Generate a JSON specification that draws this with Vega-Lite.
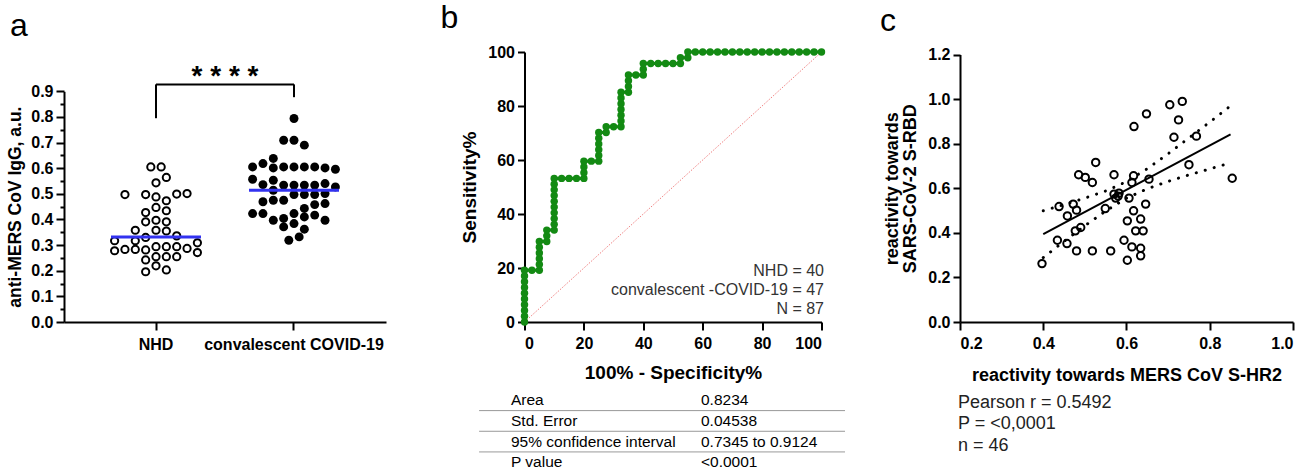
{
  "$schema": "https://vega.github.io/schema/vega-lite/v6.json",
  "background": "white",
  "padding": {"left": 6, "top": 2, "right": 5, "bottom": 0},
  "spacing": 138.5,
  "bounds": "flush",
  "config": {
    "font": "Liberation Sans",
    "view": {"stroke": null},
    "axis": {"grid": false, "domainColor": "black", "domainWidth": 2, "tickColor": "black", "tickWidth": 2, "labelColor": "black", "labelFont": "Liberation Sans", "labelFontWeight": "bold", "labelFontSize": 16, "titleFont": "Liberation Sans", "titleFontWeight": "bold", "titleColor": "black"},
    "title": {"font": "Liberation Sans", "fontWeight": "normal", "fontSize": 32, "color": "black", "anchor": "start", "frame": "group"},
    "text": {"font": "Liberation Sans"}
  },
  "datasets": {
    "swarm": [
      {"group": "NHD", "v": 0.605, "slot": -0.5}, {"group": "NHD", "v": 0.605, "slot": 0.5}, {"group": "NHD", "v": 0.564, "slot": 1}, {"group": "NHD", "v": 0.543, "slot": 0},
      {"group": "NHD", "v": 0.497, "slot": -3}, {"group": "NHD", "v": 0.497, "slot": -1}, {"group": "NHD", "v": 0.488, "slot": 0}, {"group": "NHD", "v": 0.499, "slot": 2}, {"group": "NHD", "v": 0.501, "slot": 3},
      {"group": "NHD", "v": 0.473, "slot": 1}, {"group": "NHD", "v": 0.447, "slot": 0}, {"group": "NHD", "v": 0.427, "slot": -1}, {"group": "NHD", "v": 0.434, "slot": 1},
      {"group": "NHD", "v": 0.391, "slot": -1}, {"group": "NHD", "v": 0.397, "slot": 0}, {"group": "NHD", "v": 0.391, "slot": 1},
      {"group": "NHD", "v": 0.358, "slot": -2}, {"group": "NHD", "v": 0.358, "slot": 0}, {"group": "NHD", "v": 0.355, "slot": 1},
      {"group": "NHD", "v": 0.336, "slot": 2}, {"group": "NHD", "v": 0.33, "slot": -1},
      {"group": "NHD", "v": 0.317, "slot": -4}, {"group": "NHD", "v": 0.317, "slot": -2},
      {"group": "NHD", "v": 0.278, "slot": -4}, {"group": "NHD", "v": 0.283, "slot": -3}, {"group": "NHD", "v": 0.283, "slot": -2}, {"group": "NHD", "v": 0.281, "slot": -1}, {"group": "NHD", "v": 0.294, "slot": 0}, {"group": "NHD", "v": 0.294, "slot": 1}, {"group": "NHD", "v": 0.294, "slot": 2}, {"group": "NHD", "v": 0.287, "slot": 3}, {"group": "NHD", "v": 0.309, "slot": 4}, {"group": "NHD", "v": 0.271, "slot": 4},
      {"group": "NHD", "v": 0.242, "slot": -1}, {"group": "NHD", "v": 0.255, "slot": 0}, {"group": "NHD", "v": 0.255, "slot": 1}, {"group": "NHD", "v": 0.255, "slot": 2},
      {"group": "NHD", "v": 0.219, "slot": 0},
      {"group": "NHD", "v": 0.196, "slot": -1}, {"group": "NHD", "v": 0.203, "slot": 1},
      {"group": "convalescent COVID-19", "v": 0.794, "slot": 0},
      {"group": "convalescent COVID-19", "v": 0.709, "slot": -1}, {"group": "convalescent COVID-19", "v": 0.709, "slot": 0}, {"group": "convalescent COVID-19", "v": 0.69, "slot": 1},
      {"group": "convalescent COVID-19", "v": 0.605, "slot": -4}, {"group": "convalescent COVID-19", "v": 0.618, "slot": -3}, {"group": "convalescent COVID-19", "v": 0.638, "slot": -2}, {"group": "convalescent COVID-19", "v": 0.601, "slot": -2}, {"group": "convalescent COVID-19", "v": 0.605, "slot": -1}, {"group": "convalescent COVID-19", "v": 0.605, "slot": 0}, {"group": "convalescent COVID-19", "v": 0.605, "slot": 1}, {"group": "convalescent COVID-19", "v": 0.605, "slot": 2}, {"group": "convalescent COVID-19", "v": 0.601, "slot": 3}, {"group": "convalescent COVID-19", "v": 0.596, "slot": 4},
      {"group": "convalescent COVID-19", "v": 0.557, "slot": -4}, {"group": "convalescent COVID-19", "v": 0.536, "slot": -3}, {"group": "convalescent COVID-19", "v": 0.553, "slot": -2}, {"group": "convalescent COVID-19", "v": 0.514, "slot": -2}, {"group": "convalescent COVID-19", "v": 0.534, "slot": -1}, {"group": "convalescent COVID-19", "v": 0.534, "slot": 0}, {"group": "convalescent COVID-19", "v": 0.534, "slot": 1}, {"group": "convalescent COVID-19", "v": 0.534, "slot": 2}, {"group": "convalescent COVID-19", "v": 0.54, "slot": 3}, {"group": "convalescent COVID-19", "v": 0.527, "slot": 4},
      {"group": "convalescent COVID-19", "v": 0.497, "slot": 0}, {"group": "convalescent COVID-19", "v": 0.497, "slot": 1}, {"group": "convalescent COVID-19", "v": 0.497, "slot": 2}, {"group": "convalescent COVID-19", "v": 0.501, "slot": 3},
      {"group": "convalescent COVID-19", "v": 0.469, "slot": -3}, {"group": "convalescent COVID-19", "v": 0.475, "slot": -2}, {"group": "convalescent COVID-19", "v": 0.475, "slot": -1},
      {"group": "convalescent COVID-19", "v": 0.458, "slot": 2}, {"group": "convalescent COVID-19", "v": 0.462, "slot": 3}, {"group": "convalescent COVID-19", "v": 0.443, "slot": 1},
      {"group": "convalescent COVID-19", "v": 0.423, "slot": -4}, {"group": "convalescent COVID-19", "v": 0.423, "slot": -3}, {"group": "convalescent COVID-19", "v": 0.423, "slot": 0}, {"group": "convalescent COVID-19", "v": 0.417, "slot": 2}, {"group": "convalescent COVID-19", "v": 0.41, "slot": 1},
      {"group": "convalescent COVID-19", "v": 0.397, "slot": -2}, {"group": "convalescent COVID-19", "v": 0.404, "slot": -1}, {"group": "convalescent COVID-19", "v": 0.384, "slot": 0}, {"group": "convalescent COVID-19", "v": 0.397, "slot": 3},
      {"group": "convalescent COVID-19", "v": 0.371, "slot": -1}, {"group": "convalescent COVID-19", "v": 0.362, "slot": 1},
      {"group": "convalescent COVID-19", "v": 0.319, "slot": -0.5}, {"group": "convalescent COVID-19", "v": 0.332, "slot": 0.5}
    ],
    "medians": [
      {"group": "NHD", "v": 0.332},
      {"group": "convalescent COVID-19", "v": 0.514}
    ],
    "bracketLegs": [
      {"group": "NHD", "v": 0.795, "v2": 0.927},
      {"group": "convalescent COVID-19", "v": 0.877, "v2": 0.927}
    ],
    "bracketTop": [
      {"group": "NHD", "g2": "convalescent COVID-19", "v": 0.927}
    ],
    "signif": [
      {"group": "NHD", "v": 0.955, "slot": 6.67, "label": "* * * *"}
    ],
    "roc": [
      {"i": 0, "fpr": 0, "sens": 0}, {"i": 1, "fpr": 0, "sens": 2.13}, {"i": 2, "fpr": 0, "sens": 4.26}, {"i": 3, "fpr": 0, "sens": 6.38}, {"i": 4, "fpr": 0, "sens": 8.51}, {"i": 5, "fpr": 0, "sens": 10.64}, {"i": 6, "fpr": 0, "sens": 12.77}, {"i": 7, "fpr": 0, "sens": 14.89}, {"i": 8, "fpr": 0, "sens": 17.02}, {"i": 9, "fpr": 0, "sens": 19.15},
      {"i": 10, "fpr": 2.5, "sens": 19.15}, {"i": 11, "fpr": 5, "sens": 19.15},
      {"i": 12, "fpr": 5, "sens": 21.28}, {"i": 13, "fpr": 5, "sens": 23.4}, {"i": 14, "fpr": 5, "sens": 25.53}, {"i": 15, "fpr": 5, "sens": 27.66}, {"i": 16, "fpr": 5, "sens": 29.79},
      {"i": 17, "fpr": 7.5, "sens": 29.79}, {"i": 18, "fpr": 7.5, "sens": 31.91}, {"i": 19, "fpr": 7.5, "sens": 34.04},
      {"i": 20, "fpr": 10, "sens": 34.04}, {"i": 21, "fpr": 10, "sens": 36.17}, {"i": 22, "fpr": 10, "sens": 38.3}, {"i": 23, "fpr": 10, "sens": 40.43}, {"i": 24, "fpr": 10, "sens": 42.55}, {"i": 25, "fpr": 10, "sens": 44.68}, {"i": 26, "fpr": 10, "sens": 46.81}, {"i": 27, "fpr": 10, "sens": 48.94}, {"i": 28, "fpr": 10, "sens": 51.06}, {"i": 29, "fpr": 10, "sens": 53.19},
      {"i": 30, "fpr": 12.5, "sens": 53.19}, {"i": 31, "fpr": 15, "sens": 53.19}, {"i": 32, "fpr": 17.5, "sens": 53.19}, {"i": 33, "fpr": 20, "sens": 53.19},
      {"i": 34, "fpr": 20, "sens": 55.32}, {"i": 35, "fpr": 20, "sens": 57.45}, {"i": 36, "fpr": 20, "sens": 59.57},
      {"i": 37, "fpr": 22.5, "sens": 59.57}, {"i": 38, "fpr": 25, "sens": 59.57},
      {"i": 39, "fpr": 25, "sens": 61.7}, {"i": 40, "fpr": 25, "sens": 63.83}, {"i": 41, "fpr": 25, "sens": 65.96}, {"i": 42, "fpr": 25, "sens": 68.09}, {"i": 43, "fpr": 25, "sens": 70.21},
      {"i": 44, "fpr": 27.5, "sens": 70.21}, {"i": 45, "fpr": 27.5, "sens": 72.34},
      {"i": 46, "fpr": 30, "sens": 72.34}, {"i": 47, "fpr": 32.5, "sens": 72.34},
      {"i": 48, "fpr": 32.5, "sens": 74.47}, {"i": 49, "fpr": 32.5, "sens": 76.6}, {"i": 50, "fpr": 32.5, "sens": 78.72}, {"i": 51, "fpr": 32.5, "sens": 80.85}, {"i": 52, "fpr": 32.5, "sens": 82.98}, {"i": 53, "fpr": 32.5, "sens": 85.11},
      {"i": 54, "fpr": 35, "sens": 85.11}, {"i": 55, "fpr": 35, "sens": 87.23}, {"i": 56, "fpr": 35, "sens": 89.36}, {"i": 57, "fpr": 35, "sens": 91.49},
      {"i": 58, "fpr": 37.5, "sens": 91.49}, {"i": 59, "fpr": 40, "sens": 91.49},
      {"i": 60, "fpr": 40, "sens": 93.62}, {"i": 61, "fpr": 40, "sens": 95.74},
      {"i": 62, "fpr": 42.5, "sens": 95.74}, {"i": 63, "fpr": 45, "sens": 95.74}, {"i": 64, "fpr": 47.5, "sens": 95.74}, {"i": 65, "fpr": 50, "sens": 95.74}, {"i": 66, "fpr": 52.5, "sens": 95.74},
      {"i": 67, "fpr": 52.5, "sens": 97.87},
      {"i": 68, "fpr": 55, "sens": 97.87}, {"i": 69, "fpr": 55, "sens": 100},
      {"i": 70, "fpr": 57.5, "sens": 100}, {"i": 71, "fpr": 60, "sens": 100}, {"i": 72, "fpr": 62.5, "sens": 100}, {"i": 73, "fpr": 65, "sens": 100}, {"i": 74, "fpr": 67.5, "sens": 100}, {"i": 75, "fpr": 70, "sens": 100}, {"i": 76, "fpr": 72.5, "sens": 100}, {"i": 77, "fpr": 75, "sens": 100}, {"i": 78, "fpr": 77.5, "sens": 100}, {"i": 79, "fpr": 80, "sens": 100}, {"i": 80, "fpr": 82.5, "sens": 100}, {"i": 81, "fpr": 85, "sens": 100}, {"i": 82, "fpr": 87.5, "sens": 100}, {"i": 83, "fpr": 90, "sens": 100}, {"i": 84, "fpr": 92.5, "sens": 100}, {"i": 85, "fpr": 95, "sens": 100}, {"i": 86, "fpr": 97.5, "sens": 100}, {"i": 87, "fpr": 100, "sens": 100}
    ],
    "diag": [
      {"fpr": 0, "sens": 0},
      {"fpr": 100, "sens": 100}
    ],
    "rocTable": [
      {"r": 0, "label": "Area", "value": "0.8234"},
      {"r": 1, "label": "Std. Error", "value": "0.04538"},
      {"r": 2, "label": "95% confidence interval", "value": "0.7345 to 0.9124"},
      {"r": 3, "label": " P value", "value": "<0.0001"}
    ],
    "corr": [
      {"mx": 0.526, "sy": 0.716}, {"mx": 0.485, "sy": 0.661}, {"mx": 0.501, "sy": 0.649}, {"mx": 0.518, "sy": 0.626}, {"mx": 0.57, "sy": 0.661},
      {"mx": 0.617, "sy": 0.656}, {"mx": 0.613, "sy": 0.626}, {"mx": 0.654, "sy": 0.641}, {"mx": 0.75, "sy": 0.706}, {"mx": 0.57, "sy": 0.574},
      {"mx": 0.582, "sy": 0.578}, {"mx": 0.574, "sy": 0.556}, {"mx": 0.606, "sy": 0.556}, {"mx": 0.549, "sy": 0.509}, {"mx": 0.438, "sy": 0.518},
      {"mx": 0.472, "sy": 0.529}, {"mx": 0.48, "sy": 0.502}, {"mx": 0.458, "sy": 0.476}, {"mx": 0.646, "sy": 0.529}, {"mx": 0.617, "sy": 0.499},
      {"mx": 0.602, "sy": 0.454}, {"mx": 0.634, "sy": 0.462}, {"mx": 0.622, "sy": 0.409}, {"mx": 0.64, "sy": 0.409}, {"mx": 0.477, "sy": 0.409},
      {"mx": 0.49, "sy": 0.424}, {"mx": 0.434, "sy": 0.367}, {"mx": 0.457, "sy": 0.352}, {"mx": 0.48, "sy": 0.319}, {"mx": 0.518, "sy": 0.319},
      {"mx": 0.562, "sy": 0.319}, {"mx": 0.594, "sy": 0.367}, {"mx": 0.613, "sy": 0.337}, {"mx": 0.634, "sy": 0.331}, {"mx": 0.634, "sy": 0.297},
      {"mx": 0.602, "sy": 0.277}, {"mx": 0.397, "sy": 0.262}, {"mx": 0.648, "sy": 0.934}, {"mx": 0.618, "sy": 0.877}, {"mx": 0.704, "sy": 0.975},
      {"mx": 0.734, "sy": 0.99}, {"mx": 0.725, "sy": 0.907}, {"mx": 0.714, "sy": 0.829}, {"mx": 0.768, "sy": 0.834}, {"mx": 0.854, "sy": 0.645},
      {"mx": 0.58, "sy": 0.565}
    ],
    "fitLines": [
      {"kind": "fit", "mx": 0.4, "sy": 0.394}, {"kind": "fit", "mx": 0.85, "sy": 0.842},
      {"kind": "lo", "mx": 0.4, "sy": 0.289}, {"kind": "lo", "mx": 0.45, "sy": 0.362}, {"kind": "lo", "mx": 0.5, "sy": 0.432}, {"kind": "lo", "mx": 0.55, "sy": 0.498}, {"kind": "lo", "mx": 0.6, "sy": 0.556}, {"kind": "lo", "mx": 0.65, "sy": 0.598}, {"kind": "lo", "mx": 0.7, "sy": 0.631}, {"kind": "lo", "mx": 0.75, "sy": 0.66}, {"kind": "lo", "mx": 0.8, "sy": 0.687}, {"kind": "lo", "mx": 0.85, "sy": 0.714},
      {"kind": "hi", "mx": 0.4, "sy": 0.499}, {"kind": "hi", "mx": 0.45, "sy": 0.527}, {"kind": "hi", "mx": 0.5, "sy": 0.556}, {"kind": "hi", "mx": 0.55, "sy": 0.588}, {"kind": "hi", "mx": 0.6, "sy": 0.63}, {"kind": "hi", "mx": 0.65, "sy": 0.688}, {"kind": "hi", "mx": 0.7, "sy": 0.755}, {"kind": "hi", "mx": 0.75, "sy": 0.826}, {"kind": "hi", "mx": 0.8, "sy": 0.897}, {"kind": "hi", "mx": 0.85, "sy": 0.97}
    ]
  },
  "hconcat": [
    {
      "width": 322,
      "height": 270,
      "title": {"text": "a", "dx": -54, "offset": 8.7},
      "encoding": {
        "x": {"field": "group", "type": "nominal", "scale": {"type": "band", "domain": ["NHD", "convalescent COVID-19"], "paddingInner": 0.1, "paddingOuter": 0.2167}, "axis": {"title": null, "labelAngle": 0, "tickSize": 8, "labelPadding": 6, "labelFontSize": 16}},
        "y": {"field": "v", "type": "quantitative", "scale": {"domain": [0, 0.9], "range": [270, 39.3], "nice": false}, "axis": {"title": "anti-MERS CoV IgG, a.u.", "titleFontSize": 17.5, "titlePadding": 6, "labelFontSize": 16, "labelPadding": 3, "values": [0, 0.05, 0.1, 0.15, 0.2, 0.25, 0.3, 0.35, 0.4, 0.45, 0.5, 0.55, 0.6, 0.65, 0.7, 0.75, 0.8, 0.85, 0.9], "labelExpr": "round(datum.value*20) % 2 == 0 ? format(datum.value, '.1f') : ''", "tickSize": {"condition": {"test": "round(datum.value*20) % 2 == 0", "value": 8}, "value": 4}}}
      },
      "layer": [
        {
          "data": {"name": "swarm"},
          "transform": [{"filter": "datum.group == 'NHD'"}],
          "mark": {"type": "point", "shape": "circle", "filled": false, "stroke": "black", "strokeWidth": 2, "size": 52, "opacity": 1},
          "encoding": {"xOffset": {"field": "slot", "type": "quantitative", "scale": {"domain": [-6, 6]}}}
        },
        {
          "data": {"name": "swarm"},
          "transform": [{"filter": "datum.group != 'NHD'"}],
          "mark": {"type": "circle", "color": "black", "size": 80, "opacity": 1},
          "encoding": {"xOffset": {"field": "slot", "type": "quantitative", "scale": {"domain": [-6, 6]}}}
        },
        {
          "data": {"name": "medians"},
          "mark": {"type": "tick", "color": "#3232f0", "thickness": 3, "size": 90, "opacity": 1}
        },
        {
          "data": {"name": "bracketLegs"},
          "mark": {"type": "rule", "color": "black", "strokeWidth": 2},
          "encoding": {"y2": {"field": "v2"}}
        },
        {
          "data": {"name": "bracketTop"},
          "mark": {"type": "rule", "color": "black", "strokeWidth": 2},
          "encoding": {"x2": {"field": "g2"}}
        },
        {
          "data": {"name": "signif"},
          "mark": {"type": "text", "fontSize": 28, "fontWeight": "bold", "color": "black", "align": "center", "baseline": "middle"},
          "encoding": {"xOffset": {"field": "slot", "type": "quantitative", "scale": {"domain": [-6, 6]}}, "text": {"field": "label"}}
        }
      ]
    },
    {
      "width": 297,
      "height": 270,
      "title": {"text": "b", "dx": -84, "offset": 8.7},
      "layer": [
        {
          "layer": [
            {
              "data": {"name": "diag"},
              "mark": {"type": "line", "color": "#f08080", "strokeWidth": 1, "strokeDash": [1.5, 1.5]},
              "encoding": {
                "x": {"field": "fpr", "type": "quantitative", "scale": {"domain": [0, 100], "nice": false}, "axis": {"title": "100% - Specificity%", "titleFontSize": 19, "titlePadding": 12, "values": [0, 20, 40, 60, 80, 100], "tickSize": 8, "labelPadding": 5}},
                "y": {"field": "sens", "type": "quantitative", "scale": {"domain": [0, 100], "nice": false}, "axis": {"title": "Sensitivity%", "titleFontSize": 19, "titlePadding": 8, "values": [0, 20, 40, 60, 80, 100], "tickSize": 7, "labelPadding": 3}}
              }
            },
            {
              "data": {"name": "roc"},
              "mark": {"type": "line", "color": "#138a13", "strokeWidth": 3, "point": {"filled": true, "size": 55, "color": "#138a13", "opacity": 1}},
              "encoding": {
                "x": {"field": "fpr", "type": "quantitative"},
                "y": {"field": "sens", "type": "quantitative"},
                "order": {"field": "i", "type": "quantitative"}
              }
            },
            {
              "data": {"values": [{}]},
              "mark": {"type": "text", "text": "NHD = 40\nconvalescent -COVID-19 = 47\nN = 87", "lineBreak": "\n", "lineHeight": 19, "fontSize": 16, "color": "#333333", "align": "right", "baseline": "alphabetic", "dx": 2.5},
              "encoding": {"x": {"datum": 100}, "y": {"datum": 16.9}}
            }
          ]
        },
        {
          "data": {"name": "rocTable"},
          "layer": [
            {
              "mark": {"type": "text", "align": "left", "baseline": "middle", "fontSize": 15.5, "color": "black"},
              "encoding": {
                "x": {"datum": 0, "type": "quantitative", "scale": {"domain": [0, 1], "range": [-13.5, 176.5]}, "axis": null},
                "y": {"field": "r", "type": "quantitative", "scale": {"domain": [0, 3], "range": [348.3, 410.3]}, "axis": null},
                "text": {"field": "label"}
              }
            },
            {
              "mark": {"type": "text", "align": "left", "baseline": "middle", "fontSize": 15.5, "color": "black"},
              "encoding": {
                "x": {"datum": 1, "type": "quantitative"},
                "y": {"field": "r", "type": "quantitative"},
                "text": {"field": "value"}
              }
            },
            {
              "transform": [{"filter": "datum.r < 3"}],
              "mark": {"type": "rule", "color": "#999999", "strokeWidth": 1, "yOffset": 10.3},
              "encoding": {
                "x": {"datum": -0.168, "type": "quantitative"},
                "x2": {"datum": 1.758},
                "y": {"field": "r", "type": "quantitative"}
              }
            }
          ]
        }
      ],
      "resolve": {"scale": {"x": "independent", "y": "independent"}}
    },
    {
      "width": 333,
      "height": 270,
      "title": {"text": "c", "dx": -80, "offset": 8.7},
      "layer": [
        {
          "data": {"name": "corr"},
          "mark": {"type": "point", "shape": "circle", "filled": false, "stroke": "black", "strokeWidth": 2, "size": 55, "opacity": 1},
          "encoding": {
            "x": {"field": "mx", "type": "quantitative", "scale": {"domain": [0.2, 1.0], "nice": false, "zero": false}, "axis": {"title": "reactivity towards MERS CoV S-HR2", "titleFontSize": 18, "titlePadding": 15, "values": [0.2, 0.4, 0.6, 0.8, 1.0], "format": ".1f", "tickSize": 8, "labelPadding": 5}},
            "y": {"field": "sy", "type": "quantitative", "scale": {"domain": [0, 1.2], "range": [270, 2.6], "nice": false}, "axis": {"title": ["reactivity towards", "SARS-CoV-2 S-RBD"], "titleFontSize": 18, "titleLineHeight": 18, "titlePadding": 8, "values": [0, 0.2, 0.4, 0.6, 0.8, 1.0, 1.2], "format": ".1f", "tickSize": 7, "labelPadding": 3}}
          }
        },
        {
          "data": {"name": "fitLines"},
          "transform": [{"filter": "datum.kind == 'fit'"}],
          "mark": {"type": "line", "color": "black", "strokeWidth": 2},
          "encoding": {
            "x": {"field": "mx", "type": "quantitative"},
            "y": {"field": "sy", "type": "quantitative"}
          }
        },
        {
          "data": {"name": "fitLines"},
          "transform": [{"filter": "datum.kind != 'fit'"}],
          "mark": {"type": "line", "color": "black", "strokeWidth": 3, "strokeDash": [0.1, 9.2], "strokeCap": "round"},
          "encoding": {
            "x": {"field": "mx", "type": "quantitative"},
            "y": {"field": "sy", "type": "quantitative"},
            "detail": {"field": "kind"}
          }
        },
        {
          "data": {"values": [{}]},
          "mark": {"type": "text", "text": "Pearson r = 0.5492\nP = <0,0001\nn = 46", "lineBreak": "\n", "lineHeight": 21.2, "fontSize": 18, "color": "#222222", "align": "left", "baseline": "alphabetic", "dx": -2},
          "encoding": {"x": {"datum": 0.2}, "y": {"datum": -0.387}}
        }
      ]
    }
  ]
}
